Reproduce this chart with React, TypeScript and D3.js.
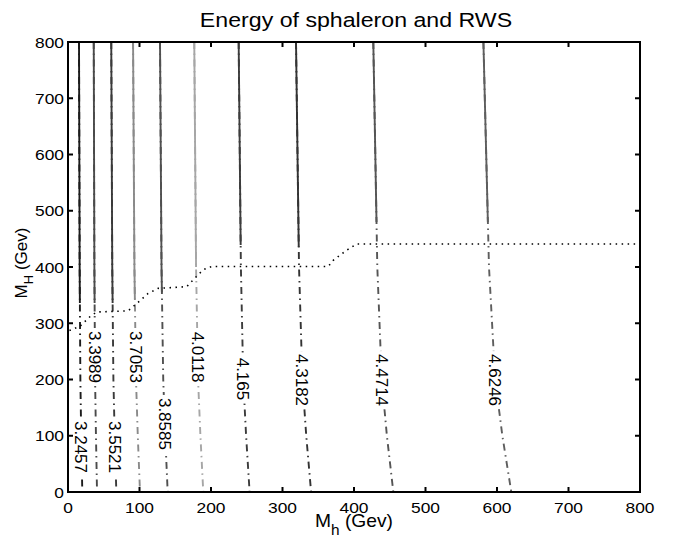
import React from 'react';
import * as d3 from 'd3';

const W = 677;
const H = 540;
const PL = 68, PR = 640, PT = 42, PB = 492;

// contour levels (energy)
const levels = ['3.2457', '3.3989', '3.5521', '3.7053', '3.8585', '4.0118', '4.165', '4.3182', '4.4714', '4.6246'];

// y (M_H) sample positions where contour x (M_h) was read
const sampleY = [800, 400, 200, 100, 0];
const c1 = [15.4, 16.3, 17.3, 18.5, 20];
const c2 = [36, 36.9, 37.9, 39.1, 40.6];
const c3 = [60.5, 61.9, 63.5, 65.3, 67.6];
const c4 = [91, 92.9, 95.1, 97.6, 100.7];
const c5 = [128.7, 130.8, 133.2, 136, 139.4];
const c6 = [176.6, 179.1, 181.9, 185.2, 189.2];
const c7 = [238.7, 241.8, 245.1, 249.1, 254];
const c8 = [318.9, 323.1, 327.8, 333.2, 340];
const c9 = [427, 432.6, 438.8, 446, 455];
const c10 = [581, 588.8, 597.4, 607.5, 620];
const contourX = [c1, c2, c3, c4, c5, c6, c7, c8, c9, c10];

const lineColors = ['#1c1c1c', '#4a4a4a', '#3a3a3a', '#8a8a8a', '#505050', '#a6a6a6', '#3c3c3c', '#333333', '#555555', '#5e5e5e'];
// lower end of the solid (sphaleron) part of each contour
const solidEndY = [336, 336, 336, 343, 355, 400, 439, 436, 480, 480];
// M_H position of each inline label
const labelY = [80, 240, 80, 240, 121, 240, 201, 199, 199, 199];

// dotted boundary
const boundaryX = [2, 17, 31, 40, 84, 96, 112, 126, 166, 175, 189, 201, 364, 371, 390, 404, 800];
const boundaryY = [287, 295, 312, 320, 322, 335, 353, 362, 365, 377, 395, 401, 401, 412, 430, 441, 441];

const ticks = [0, 100, 200, 300, 400, 500, 600, 700, 800];

const FONT = '"Liberation Sans", Arial, Helvetica, sans-serif';

export default function App() {
  const x = d3.scaleLinear().domain([0, 800]).range([PL, PR]);
  const y = d3.scaleLinear().domain([0, 800]).range([PB, PT]);
  const lineGen = d3.line<[number, number]>().x(d => x(d[0])).y(d => y(d[1]));

  const labelFs = 17;

  return (
    <svg width={W} height={H} style={{ position: 'absolute', left: 0, top: 0, background: '#fff' }}>
      <rect x={0} y={0} width={W} height={H} fill="#fff" />
      {/* title */}
      <text transform={`translate(356,27.3) scale(1.13,1)`} textAnchor="middle" fontFamily={FONT} fontSize={20.5} fill="#000">
        Energy of sphaleron and RWS
      </text>

      {/* contour lines */}
      {contourX.map((xs, i) => {
        const pts: [number, number][] = sampleY.map((yy, k) => [xs[k], yy]);
        const xAt = d3.scaleLinear().domain(sampleY).range(xs);
        const solidPts: [number, number][] = pts.filter(p => p[1] > solidEndY[i]);
        solidPts.push([xAt(solidEndY[i]), solidEndY[i]]);
        return (
          <g key={'c' + i}>
            <path d={lineGen(pts) || ''} fill="none" stroke={lineColors[i]} strokeWidth={1.9} strokeDasharray="7 4.5 1.5 4.5" />
            <path d={lineGen(solidPts) || ''} fill="none" stroke={lineColors[i]} strokeWidth={1.9} />
          </g>
        );
      })}

      {/* contour labels */}
      {levels.map((lv, i) => {
        const xAt = d3.scaleLinear().domain(sampleY).range(contourX[i]);
        const px = x(xAt(labelY[i]));
        const py = y(labelY[i]);
        const len = ((lv.length - 1) * 0.556 + 0.278) * labelFs;
        return (
          <g key={'l' + i}>
            <rect x={px - 7} y={py - len / 2 - 3} width={14} height={len + 6} fill="#fff" />
            <text transform={`translate(${px},${py}) rotate(90)`} textAnchor="middle" dy="0.36em" fontFamily={FONT} fontSize={labelFs} fill="#000">
              {lv}
            </text>
          </g>
        );
      })}

      {/* dotted boundary */}
      <path
        d={lineGen(boundaryX.map((bx, k) => [bx, boundaryY[k]] as [number, number])) || ''}
        fill="none"
        stroke="#000"
        strokeWidth={1.6}
        strokeDasharray="1.5 4.5"
      />

      {/* axes box */}
      <rect x={PL} y={PT} width={PR - PL} height={PB - PT} fill="none" stroke="#000" strokeWidth={2} />
      {ticks.map(t => (
        <g key={'t' + t}>
          <line x1={x(t)} x2={x(t)} y1={PB} y2={PB - 5} stroke="#000" strokeWidth={2} />
          <line x1={x(t)} x2={x(t)} y1={PT} y2={PT + 5} stroke="#000" strokeWidth={2} />
          <line x1={PL} x2={PL + 5} y1={y(t)} y2={y(t)} stroke="#000" strokeWidth={2} />
          <line x1={PR} x2={PR - 5} y1={y(t)} y2={y(t)} stroke="#000" strokeWidth={2} />
          <text transform={`translate(${x(t)},513) scale(1.13,1)`} textAnchor="middle" fontFamily={FONT} fontSize={15.4} fill="#000">
            {t}
          </text>
          <text transform={`translate(64,${y(t)}) scale(1.13,1)`} textAnchor="end" dy="0.36em" fontFamily={FONT} fontSize={15.4} fill="#000">
            {t}
          </text>
        </g>
      ))}

      {/* x label */}
      <text transform={`translate(354,527.3) scale(1.1,1)`} textAnchor="middle" fontFamily={FONT} fontSize={17.5} fill="#000">
        M<tspan fontSize={14} dy={8}>h</tspan><tspan dy={-8}> (Gev)</tspan>
      </text>
      {/* y label */}
      <text transform={`translate(26.7,263) rotate(-90)`} textAnchor="middle" fontFamily={FONT} fontSize={17} fill="#000">
        M<tspan fontSize={13} dy={6}>H</tspan><tspan dy={-6}> (Gev)</tspan>
      </text>
    </svg>
  );
}
